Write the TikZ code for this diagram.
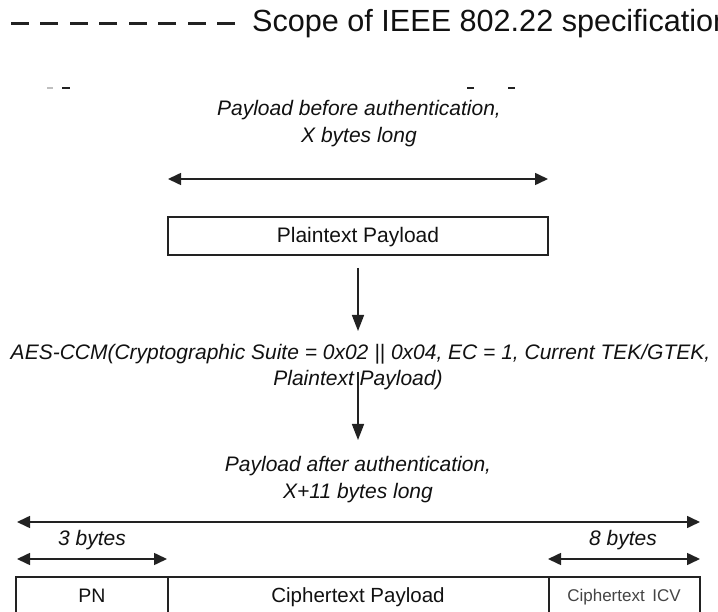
\documentclass[tikz,border=0pt]{standalone}
\usepackage{fontspec}
\setmainfont{Liberation Sans}
\usetikzlibrary{arrows.meta}
\definecolor{ink}{HTML}{222222}
\definecolor{txt}{HTML}{111111}
\definecolor{soft}{HTML}{444444}
\begin{document}
\begin{tikzpicture}[x=1pt,y=-1pt,
  dim/.style={draw=ink, line width=1.6pt, {Triangle[length=13pt,width=12pt]}-{Triangle[length=13pt,width=12pt]}},
  flow/.style={draw=ink, line width=1.6pt, -{Triangle[length=16pt,width=12pt]}},
  field/.style={draw=ink, line width=1.8pt},
  lbl/.style={font=\fontsize{21}{27}\selectfont\itshape, text=txt, inner sep=0pt, anchor=base},
  boxtxt/.style={font=\fontsize{21}{21}\selectfont, text=txt, inner sep=0pt, anchor=base},
  speck/.style={line width=1.4pt}
]
\useasboundingbox (0,0) rectangle (718,612);
\clip (0,0) rectangle (718,612);

% scope legend
\node[anchor=base west, inner sep=0pt, font=\fontsize{30.6}{30.6}\selectfont, text=txt] (scope) at (252,32) {Scope of IEEE 802.22 specification};
\coordinate (dashL) at (0,24);
\coordinate (dashR) at (235,24);
\draw[draw=ink, line width=3pt, dash pattern=on 18pt off 11.5pt] (dashR) -- (dashL);

% faint specks
\draw[speck, draw=black!25] (47,88) -- (53,88);
\draw[speck, draw=ink] (62,88) -- (70,88);
\draw[speck, draw=ink] (467,88) -- (474,88);
\draw[speck, draw=ink] (508,88) -- (515,88);

% payload before authentication
\node[lbl] (before1) at (359,116) {Payload before authentication,};
\node[lbl] (before2) at (359,143) {X bytes long};
\coordinate (tA) at (168,179);
\coordinate (tB) at (548,179);
\draw[dim] (tA) -- (tB);

\node[field, minimum width=380pt, minimum height=38pt, inner sep=0pt] (plain) at (358,236) {};
\node[boxtxt] (plaintxt) at (358,243) {Plaintext Payload};

\coordinate (a1s) at (358,268);
\coordinate (a1e) at (358,331);
\draw[flow] (a1s) -- (a1e);

\node[lbl] (aes1) at (360.5,360) {AES-CCM(Cryptographic Suite = 0x02 || 0x04, EC = 1, Current TEK/GTEK,};
\node[lbl] (aes2) at (358,385) {Plaintext Payload)};

\coordinate (a2s) at (358,372);
\coordinate (a2e) at (358,440);
\draw[flow] (a2s) -- (a2e);

% payload after authentication
\node[lbl] (after1) at (358,471) {Payload after authentication,};
\node[lbl] (after2) at (358,498) {X+11 bytes long};

\coordinate (lA) at (17,522);
\coordinate (lB) at (700,522);
\draw[dim] (lA) -- (lB);

\node[lbl, anchor=base west] (three) at (58,545) {3 bytes};
\node[lbl, anchor=base east] (eight) at (657,545) {8 bytes};

\coordinate (sA) at (17,559);
\coordinate (sB) at (167,559);
\draw[dim] (sA) -- (sB);
\coordinate (sC) at (548,559);
\coordinate (sD) at (700,559);
\draw[dim] (sC) -- (sD);

% fields
\coordinate (fTL) at (16,577);
\coordinate (fBR) at (700,640);
\draw[field] (fTL) rectangle (fBR);
\coordinate (d1t) at (168,577);
\coordinate (d1b) at (168,640);
\coordinate (d2t) at (549,577);
\coordinate (d2b) at (549,640);
\draw[field] (d1t) -- (d1b);
\draw[field] (d2t) -- (d2b);

\node[boxtxt, font=\fontsize{19.5}{19.5}\selectfont] (pn) at (92,602) {PN};
\node[boxtxt, font=\fontsize{20.5}{20.5}\selectfont] (ctp) at (358,602) {Ciphertext Payload};
\node[boxtxt, font=\fontsize{17}{17}\selectfont, text=soft] (icv) at (624,601) {Ciphertext\, ICV};
\end{tikzpicture}
\end{document}
